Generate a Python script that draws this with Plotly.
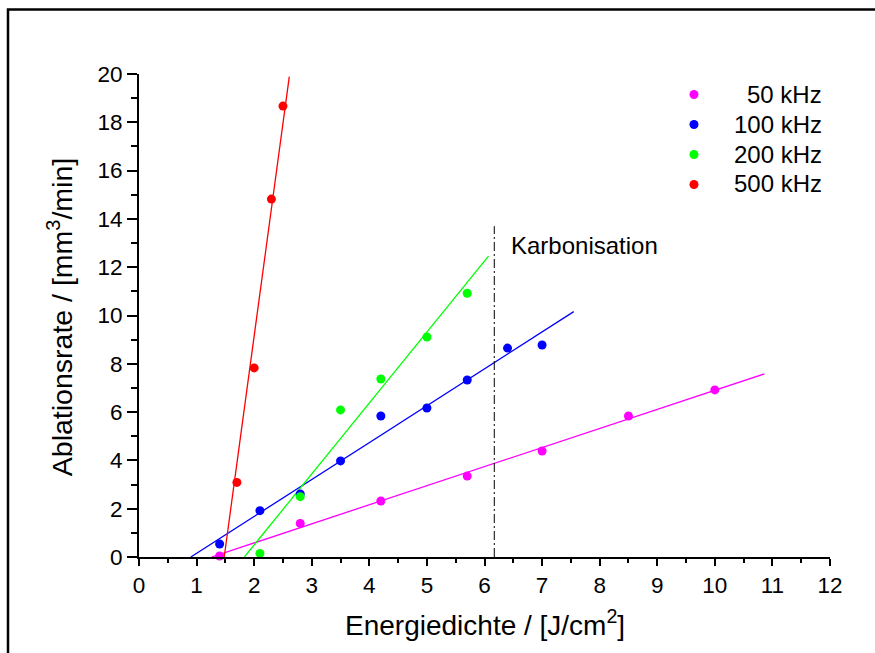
import plotly.graph_objects as go

# ---- data ----
series_names = ["50 kHz", "100 kHz", "200 kHz", "500 kHz"]
series_colors = ["#ff00ff", "#0000ff", "#00ff00", "#ff0000"]

x_50 = [1.4, 2.8, 4.2, 5.7, 7.0, 8.5, 10.0]
y_50 = [0.04, 1.39, 2.32, 3.35, 4.39, 5.84, 6.92]

x_100 = [1.4, 2.1, 2.8, 3.5, 4.2, 5.0, 5.7, 6.4, 7.0]
y_100 = [0.54, 1.92, 2.61, 3.98, 5.84, 6.17, 7.33, 8.65, 8.78]

x_200 = [2.1, 2.8, 3.5, 4.2, 5.0, 5.7]
y_200 = [0.15, 2.5, 6.09, 7.37, 9.11, 10.92]

x_500 = [1.7, 2.0, 2.3, 2.5]
y_500 = [3.09, 7.83, 14.82, 18.67]

# linear fit lines (end points)
fit_x_50 = [1.26, 10.86]
fit_y_50 = [0.0, 7.58]
fit_x_100 = [0.90, 7.55]
fit_y_100 = [0.0, 10.16]
fit_x_200 = [1.83, 6.07]
fit_y_200 = [0.0, 12.46]
fit_x_500 = [1.48, 2.61]
fit_y_500 = [0.0, 19.89]

karb_x = [6.17, 6.17]
karb_y = [0.0, 13.7]
karb_label = "Karbonisation"
karb_label_pos = (6.43, 12.9)

x_ticks = list(range(0, 13))
y_ticks = list(range(0, 21, 2))

FONT = "Liberation Sans, Arial, sans-serif"

# plot-area geometry in pixels (used only for placing the hand-made legend / frame)
W, H = 875, 653
ML, MR, MT, MB = 139, 45, 74, 96
PW, PH = W - ML - MR, H - MT - MB


def px_to_paper_x(px):
    return (px - ML) / PW


def py_to_paper_y(py):
    return (H - MB - py) / PH


points = [(x_50, y_50), (x_100, y_100), (x_200, y_200), (x_500, y_500)]
fits = [(fit_x_50, fit_y_50), (fit_x_100, fit_y_100), (fit_x_200, fit_y_200), (fit_x_500, fit_y_500)]

fig = go.Figure()

for (fx, fy), col in zip(fits, series_colors):
    fig.add_trace(go.Scatter(x=fx, y=fy, mode="lines", line=dict(color=col, width=1.3),
                             showlegend=False, hoverinfo="skip", cliponaxis=False))

fig.add_trace(go.Scatter(x=karb_x, y=karb_y, mode="lines",
                         line=dict(color="black", width=1, dash="9px,3px,2px,3px"),
                         showlegend=False, hoverinfo="skip"))

for (px, py), col, lab in zip(points, series_colors, series_names):
    fig.add_trace(go.Scatter(x=px, y=py, mode="markers", name=lab, showlegend=False,
                             marker=dict(color=col, size=9, line=dict(width=0)),
                             cliponaxis=False))

# hand-made legend: marker dots + right-aligned labels
leg_marker_px = 694
leg_text_right_px = 824
leg_first_row_py = 94.5
leg_row_gap = 30
r = 4.5
for i, (lab, col) in enumerate(zip(series_names, series_colors)):
    cy = leg_first_row_py + i * leg_row_gap
    fig.add_shape(type="circle", xref="paper", yref="paper",
                  x0=px_to_paper_x(leg_marker_px - r), x1=px_to_paper_x(leg_marker_px + r),
                  y0=py_to_paper_y(cy + r), y1=py_to_paper_y(cy - r),
                  fillcolor=col, line=dict(width=0))
    fig.add_annotation(xref="paper", yref="paper", x=px_to_paper_x(leg_text_right_px),
                       y=py_to_paper_y(cy - 0.5), text=lab, showarrow=False,
                       xanchor="right", yanchor="middle",
                       font=dict(family=FONT, size=24, color="black"))

fig.add_annotation(x=karb_label_pos[0], y=karb_label_pos[1], text=karb_label, showarrow=False,
                   xanchor="left", yanchor="middle", font=dict(family=FONT, size=24, color="black"))

# axis titles
fig.add_annotation(xref="paper", yref="paper", x=0.5007, y=-0.1366,
                   text="Energiedichte / [J/cm<sup>2</sup>]", showarrow=False,
                   xanchor="center", yanchor="middle", font=dict(family=FONT, size=28, color="black"))
fig.add_annotation(xref="paper", yref="paper", x=-0.114, y=0.497, textangle=-90,
                   text="Ablationsrate / [mm<sup>3</sup>/min]", showarrow=False,
                   xanchor="center", yanchor="middle", font=dict(family=FONT, size=28.5, color="black"))

# outer frame
fig.add_shape(type="rect", xref="paper", yref="paper",
              x0=px_to_paper_x(8), y0=py_to_paper_y(9.5), x1=1.6, y1=-0.6,
              line=dict(color="black", width=2.5), fillcolor="rgba(0,0,0,0)", layer="below")

fig.update_layout(
    width=W, height=H,
    margin=dict(l=ML, r=MR, t=MT, b=MB),
    paper_bgcolor="white", plot_bgcolor="white",
    font=dict(family=FONT, size=22, color="black"),
    showlegend=False,
    xaxis=dict(range=[0, 12], tickvals=x_ticks, showgrid=False, zeroline=False,
               showline=True, linecolor="black", linewidth=2, mirror=False,
               ticks="outside", ticklen=7, tickwidth=2, tickcolor="black",
               minor=dict(ticks="outside", ticklen=4, tickwidth=2, tickcolor="black", dtick=0.5),
               tickfont=dict(family=FONT, size=22.5)),
    yaxis=dict(range=[0, 20], tickvals=y_ticks, showgrid=False, zeroline=False,
               showline=True, linecolor="black", linewidth=2, mirror=False,
               ticks="outside", ticklen=10, tickwidth=2, tickcolor="black",
               minor=dict(ticks="outside", ticklen=6, tickwidth=2, tickcolor="black", dtick=1),
               tickfont=dict(family=FONT, size=22.5)),
)

fig.write_html("out.html")
